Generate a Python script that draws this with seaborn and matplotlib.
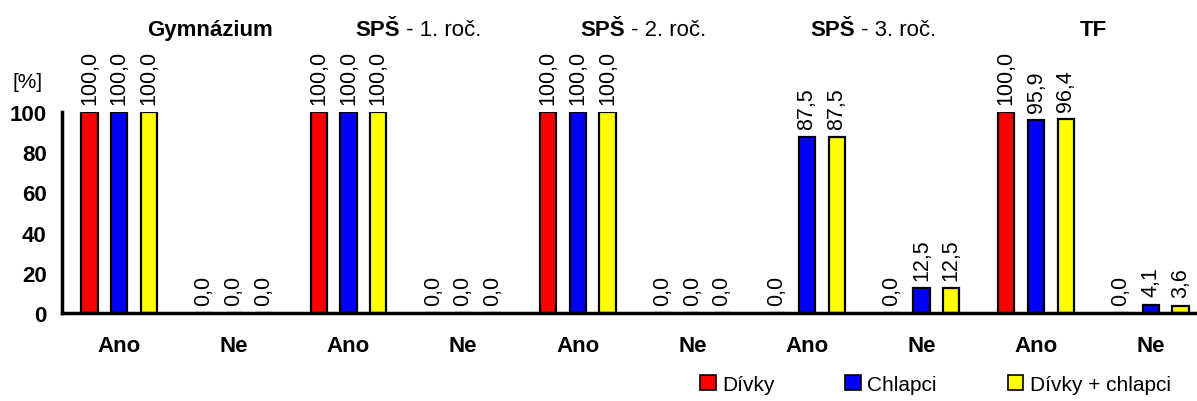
import pandas as pd
import seaborn as sns
from matplotlib import pyplot as plt
from matplotlib.patches import Patch

skoly = ["Gymnázium", "SPŠ - 1. roč.", "SPŠ - 2. roč.", "SPŠ - 3. roč.", "TF"]
odpovedi = ["Ano", "Ne"]
skupiny = ["Dívky", "Chlapci", "Dívky + chlapci"]
barvy = ["#ff0000", "#0000ff", "#ffff00"]

# hodnoty v % po skupinách (škola x odpověď)
divky = [100.0, 0.0, 100.0, 0.0, 100.0, 0.0, 0.0, 0.0, 100.0, 0.0]
chlapci = [100.0, 0.0, 100.0, 0.0, 100.0, 0.0, 87.5, 12.5, 95.9, 4.1]
celkem = [100.0, 0.0, 100.0, 0.0, 100.0, 0.0, 87.5, 12.5, 96.4, 3.6]

kategorie = [f"{s}|{o}" for s in skoly for o in odpovedi]
df = pd.DataFrame({
    "kategorie": kategorie * 3,
    "skupina": [skupiny[0]] * 10 + [skupiny[1]] * 10 + [skupiny[2]] * 10,
    "hodnota": divky + chlapci + celkem,
})

sns.set_style("white")
plt.rcParams["font.family"] = ["Liberation Sans", "DejaVu Sans"]
plt.rcParams["text.color"] = "black"
plt.rcParams["xtick.color"] = "black"
plt.rcParams["ytick.color"] = "black"

fig = plt.figure(figsize=(11.97, 4.02), dpi=100)
ax = fig.add_axes([62 / 1197, 1 - 314 / 402, 1146 / 1197, 201 / 402])

sns.barplot(
    data=df,
    x="kategorie",
    y="hodnota",
    hue="skupina",
    order=kategorie,
    hue_order=skupiny,
    palette=barvy,
    saturation=1,
    width=0.78,
    gap=0.46,
    edgecolor="black",
    linewidth=1.6,
    legend=False,
    ax=ax,
)

for cont in ax.containers:
    labels = [f"{b.get_height():.1f}".replace(".", ",") for b in cont]
    ax.bar_label(cont, labels=labels, rotation=90, padding=6, fontsize=15.5, clip_on=False)

ax.set_xlim(-0.5, 9.5)
ax.set_ylim(0, 100)
ax.set_yticks([0, 20, 40, 60, 80, 100])
ax.set_xticks(range(10))
ax.set_xticklabels([k.split("|")[1] for k in kategorie])
ax.set_xticks([i - 0.5 for i in range(10)], minor=True)
ax.tick_params(axis="x", which="major", length=0, pad=16, labelsize=16)
ax.tick_params(axis="x", which="minor", length=8, width=2.5, direction="out", color="black")
ax.tick_params(axis="y", length=8, width=2.5, direction="out", color="black", labelsize=16, pad=3)
for lab in ax.get_xticklabels() + ax.get_yticklabels():
    lab.set_fontweight("bold")
ax.set_xlabel("")
ax.set_ylabel("")
for s in ["top", "right"]:
    ax.spines[s].set_visible(False)
for s in ["left", "bottom"]:
    ax.spines[s].set_linewidth(2.5)
    ax.spines[s].set_color("black")

ax.text(-0.03, 1.154, "[%]", transform=ax.transAxes, fontsize=15, ha="center", va="center")

# nadpisy skupin (levý okraj v jednotkách osy x)
pozice = [0.24, 2.06, 4.02, 6.03, 8.38]
for s, x in zip(skoly, pozice):
    casti = s.split(" - ")
    t1 = ax.text(x, 141, casti[0], fontsize=16, fontweight="bold", ha="left", va="center")
    if len(casti) > 1:
        ax.annotate(" - " + casti[1], xy=(1, 0), xycoords=t1, va="bottom", ha="left", fontsize=16)

handles = [Patch(facecolor=c, edgecolor="black", linewidth=1.2) for c in barvy]
fig.legend(
    handles,
    skupiny,
    loc="center left",
    bbox_to_anchor=(0.585, 0.042),
    ncol=3,
    frameon=False,
    fontsize=15,
    handlelength=0.75,
    handleheight=0.75,
    handletextpad=0.3,
    columnspacing=3.4,
    borderaxespad=0,
    borderpad=0,
)

plt.savefig("out.png", dpi=100)
